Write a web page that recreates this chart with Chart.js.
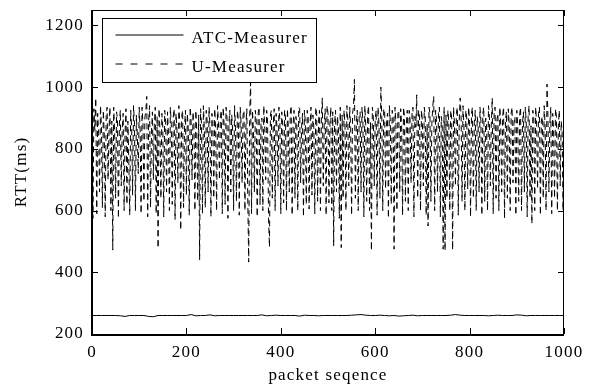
<!DOCTYPE html>
<html><head><meta charset="utf-8">
<script src="https://cdn.jsdelivr.net/npm/chart.js@4/dist/chart.umd.min.js"></script>
<style>html,body{margin:0;padding:0;background:#fff}</style>
</head><body>
<canvas id="c" width="589" height="388" style="display:block;width:589px;height:388px"></canvas>
<script>
const seriesNames = ['ATC-Measurer', 'U-Measurer'];
const xTicks = [0, 200, 400, 600, 800, 1000];
const yTicks = [200, 400, 600, 800, 1000, 1200];
const xTitle = 'packet seqence';
const yTitle = 'RTT(ms)';

// U-Measurer RTT, one sample every 2 packets (packet 0 .. 1000)
const uStep = 2;
const uValues = [
  880, 575, 930, 860, 965, 590, 915, 850, 660, 940,
  870, 610, 925, 845, 580, 905, 935, 700, 860, 935,
  600, 890, 472, 935, 850, 640, 920, 895, 575, 880,
  925, 680, 865, 915, 600, 850, 930, 620, 890, 760,
  585, 925, 870, 650, 940, 880, 600, 910, 845, 720,
  935, 860, 590, 935, 880, 630, 900, 925, 970, 580,
  890, 940, 610, 855, 920, 700, 875, 935, 590, 905,
  478, 930, 860, 640, 915, 870, 580, 925, 890, 660,
  920, 850, 600, 935, 880, 620, 900, 930, 570, 915,
  860, 690, 940, 885, 537, 905, 925, 610, 870, 925,
  650, 915, 860, 585, 935, 890, 700, 920, 875, 600,
  925, 855, 630, 910, 440, 930, 880, 590, 940, 865,
  610, 925, 890, 660, 935, 870, 580, 915, 895, 640,
  930, 860, 600, 940, 885, 700, 905, 925, 590, 935,
  875, 620, 935, 900, 575, 880, 925, 660, 910, 860,
  600, 940, 870, 630, 925, 895, 585, 935, 880, 690,
  910, 925, 600, 870, 930, 640, 433, 905, 1015, 590,
  925, 860, 660, 925, 890, 580, 915, 935, 620, 880,
  900, 600, 940, 865, 700, 925, 890, 575, 482, 910,
  925, 640, 880, 930, 600, 915, 870, 680, 935, 895,
  590, 920, 880, 625, 925, 900, 600, 930, 865, 660,
  915, 940, 585, 875, 925, 640, 905, 880, 600, 935,
  930, 690, 870, 915, 580, 925, 885, 620, 925, 900,
  605, 880, 935, 650, 910, 870, 590, 935, 915, 630,
  890, 925, 600, 905, 965, 680, 875, 930, 585, 940,
  915, 625, 880, 935, 600, 920, 485, 885, 925, 660,
  905, 870, 575, 935, 480, 910, 640, 925, 880, 600,
  940, 895, 680, 935, 870, 585, 915, 935, 1025, 640,
  880, 925, 600, 905, 920, 660, 935, 890, 580, 940,
  875, 630, 915, 940, 600, 885, 470, 935, 905, 680,
  895, 925, 585, 935, 880, 640, 1000, 905, 600, 930,
  925, 670, 880, 915, 575, 940, 890, 620, 925, 905,
  475, 935, 880, 600, 915, 925, 660, 930, 875, 585,
  935, 905, 630, 880, 925, 600, 925, 890, 690, 915,
  935, 580, 905, 870, 975, 640, 925, 900, 600, 925,
  890, 680, 935, 905, 585, 880, 550, 935, 915, 630,
  880, 940, 970, 600, 925, 895, 660, 915, 935, 580,
  905, 880, 475, 935, 470, 910, 640, 925, 885, 600,
  925, 900, 472, 935, 880, 680, 915, 935, 585, 890,
  965, 905, 630, 940, 875, 600, 925, 900, 670, 935,
  880, 580, 915, 935, 640, 885, 925, 600, 905, 880,
  660, 935, 890, 585, 915, 935, 630, 900, 880, 600,
  940, 905, 680, 880, 965, 590, 925, 935, 640, 895,
  915, 600, 935, 880, 660, 905, 935, 575, 890, 920,
  640, 930, 880, 600, 915, 935, 690, 885, 905, 585,
  925, 875, 630, 910, 935, 600, 880, 920, 660, 935,
  890, 580, 905, 940, 640, 875, 557, 925, 900, 600,
  935, 880, 670, 915, 935, 585, 890, 905, 640, 940,
  875, 600, 1010, 905, 660, 880, 935, 590, 915, 860,
  640, 930, 905, 600, 875, 925, 680, 890, 860, 600,
  880
];

// ATC-Measurer RTT, one sample every 10 packets (packet 0 .. 1000)
const atcStep = 10;
const atcValues = [
  260, 260, 260, 260, 260, 260, 259, 257, 260, 260,
  260, 260, 257, 256, 260, 260, 260, 260, 260, 260,
  260, 263, 259, 260, 260, 262, 259, 260, 260, 260,
  260, 260, 260, 260, 260, 260, 262, 259, 260, 261,
  260, 260, 260, 260, 258, 261, 260, 260, 259, 260,
  260, 260, 260, 260, 260, 261, 262, 263, 261, 260,
  260, 261, 260, 259, 260, 258, 259, 260, 261, 259,
  260, 260, 260, 260, 260, 260, 261, 263, 261, 260,
  260, 260, 260, 260, 259, 260, 261, 260, 260, 260,
  262, 261, 259, 260, 260, 260, 260, 260, 260, 260,
  260
];

const FONT = {family: '"Liberation Serif", "Times New Roman", serif', size: 17};
const SPACING = '1.2px';

const framePlugin = {
  id: 'frame',
  beforeUpdate(chart) { chart.ctx.letterSpacing = SPACING; },
  beforeDraw(chart) {
    const ctx = chart.ctx;
    ctx.letterSpacing = SPACING;
    ctx.save();
    ctx.fillStyle = '#fff';
    ctx.fillRect(0, 0, chart.width, chart.height);
    ctx.restore();
  },
  afterDatasetsDraw(chart) {
    const {ctx, chartArea: a, scales: {x, y}} = chart;
    ctx.save();
    ctx.strokeStyle = '#000';
    ctx.setLineDash([]);
    // frame
    ctx.lineWidth = 1;
    ctx.beginPath();
    ctx.moveTo(a.left, a.top + 0.5); ctx.lineTo(a.right, a.top + 0.5);
    ctx.moveTo(a.right - 0.5, a.top); ctx.lineTo(a.right - 0.5, a.bottom);
    ctx.stroke();
    ctx.lineWidth = 2;
    ctx.beginPath();
    ctx.moveTo(a.left, a.top); ctx.lineTo(a.left, a.bottom + 1);
    ctx.lineTo(a.right, a.bottom + 1);
    ctx.stroke();
    // inward ticks on all four sides
    ctx.lineWidth = 1;
    ctx.beginPath();
    xTicks.forEach(v => {
      const px = Math.round(x.getPixelForValue(v)) + 0.5;
      ctx.moveTo(px, a.bottom); ctx.lineTo(px, a.bottom - 6);
      ctx.moveTo(px, a.top); ctx.lineTo(px, a.top + 6);
    });
    yTicks.forEach(v => {
      const py = Math.round(y.getPixelForValue(v)) + 0.5;
      ctx.moveTo(a.left, py); ctx.lineTo(a.left + 6, py);
      ctx.moveTo(a.right, py); ctx.lineTo(a.right - 6, py);
    });
    ctx.stroke();
    // legend box
    const lx = a.left + 10.5, ly = a.top + 8.5, lw = 214, lh = 64;
    ctx.fillStyle = '#fff';
    ctx.fillRect(lx, ly, lw, lh);
    ctx.lineWidth = 1;
    ctx.strokeRect(lx, ly, lw, lh);
    ctx.font = FONT.size + 'px ' + FONT.family;
    ctx.fillStyle = '#000';
    ctx.textAlign = 'left';
    ctx.textBaseline = 'alphabetic';
    ctx.letterSpacing = SPACING;
    chart.data.datasets.forEach((ds, i) => {
      const rowY = ly + 16.5 + i * 29;
      ctx.setLineDash(i === 0 ? [] : [7, 8]);
      ctx.beginPath();
      ctx.moveTo(lx + 13, rowY); ctx.lineTo(lx + 81, rowY);
      ctx.stroke();
      ctx.setLineDash([]);
      ctx.fillText(ds.label, lx + 89, rowY + 7.5);
    });
    ctx.restore();
  }
};

new Chart(document.getElementById('c'), {
  type: 'line',
  data: {
    datasets: [
      {
        label: seriesNames[0],
        data: atcValues.map((v, i) => ({x: i * atcStep, y: v})),
        borderColor: '#000', borderWidth: 1, pointRadius: 0, fill: false, tension: 0
      },
      {
        label: seriesNames[1],
        data: uValues.map((v, i) => ({x: i * uStep, y: v})),
        borderColor: '#000', borderWidth: 1, borderDash: [6, 4], pointRadius: 0, fill: false, tension: 0
      }
    ]
  },
  options: {
    responsive: false,
    animation: false,
    devicePixelRatio: 1,
    layout: {padding: {left: 0, right: 25, top: 10, bottom: 0}},
    plugins: {legend: {display: false}, tooltip: {enabled: false}},
    scales: {
      x: {
        type: 'linear', min: 0, max: 1000,
        afterBuildTicks: s => { s.ticks = xTicks.map(v => ({value: v})); },
        afterFit: s => { s.height = 54; s.paddingLeft = 0; s.paddingRight = 0; },
        grid: {display: false, drawTicks: false},
        border: {display: false},
        ticks: {color: '#000', font: FONT, padding: 8, maxRotation: 0, autoSkip: false, callback: v => String(v)},
        title: {display: true, text: xTitle, color: '#000', font: FONT, padding: {top: 0, bottom: 2}}
      },
      y: {
        type: 'linear', min: 200, max: 1250,
        afterBuildTicks: s => { s.ticks = yTicks.map(v => ({value: v})); },
        afterFit: s => { s.width = 92; s.paddingTop = 0; s.paddingBottom = 0; },
        grid: {display: false, drawTicks: false},
        border: {display: false},
        ticks: {color: '#000', font: FONT, padding: 8, autoSkip: false, callback: v => String(v)},
        title: {display: true, text: yTitle, color: '#000', font: FONT, padding: {top: 11, bottom: 0}}
      }
    }
  },
  plugins: [framePlugin]
});
</script>
</body></html>
